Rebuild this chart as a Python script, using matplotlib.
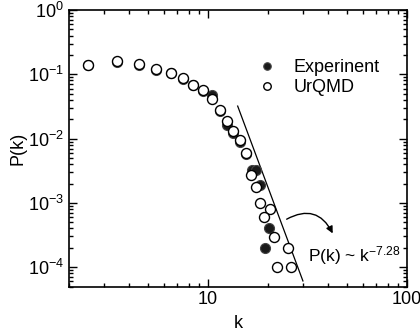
import matplotlib
matplotlib.use("Agg")
import matplotlib.pyplot as plt
from matplotlib.ticker import LogLocator, NullFormatter, FuncFormatter

plt.rcParams['font.family'] = ['Liberation Sans', 'DejaVu Sans']
plt.rcParams['mathtext.fontset'] = 'custom'
plt.rcParams['mathtext.rm'] = 'Liberation Sans'
plt.rcParams['mathtext.it'] = 'Liberation Sans'

# UrQMD (open circles)
k_urqmd = [2.5, 3.5, 4.5, 5.5, 6.5, 7.5, 8.45, 9.45, 10.5, 11.5, 12.5, 13.4, 14.45,
           15.5, 16.4, 17.5, 18.3, 20.4, 19.2, 21.4, 25.2, 22.2, 26.2]
p_urqmd = [0.14, 0.158, 0.143, 0.12, 0.106, 0.087, 0.069, 0.056, 0.041, 0.028, 0.019,
           0.013, 0.0094, 0.006, 0.0027, 0.00176, 0.001, 0.00079, 0.00061, 0.00029,
           0.0002, 0.0001, 0.0001]

# Experiment (filled circles)
k_exp = [2.5, 3.5, 4.5, 5.5, 6.5, 7.5, 8.45, 9.45, 10.5, 11.5, 12.5, 13.4, 14.45,
         15.5, 16.7, 17.5, 18.3, 20.2, 19.4]
p_exp = [0.137, 0.155, 0.14, 0.117, 0.103, 0.085, 0.067, 0.054, 0.047, 0.027, 0.0165,
         0.012, 0.009, 0.0058, 0.0033, 0.0032, 0.0019, 0.0004, 0.0002]

# power-law guide line
k_fit = [14.1, 30.0]
p_fit = [0.032, 6.1e-5]

fig = plt.figure(figsize=(4.2, 3.32), dpi=100)
ax = fig.add_axes([0.164, 0.137, 0.805, 0.833])

ax.plot(k_fit, p_fit, color='black', lw=0.9)
ax.plot(k_exp, p_exp, 'o', ms=7.2, mfc='#1a1a1a', mec='#444444', mew=0.8,
        label='Experinent', ls='none')
ax.plot(k_urqmd, p_urqmd, 'o', ms=7.2, mfc='white', mec='black', mew=1.0,
        label='UrQMD', ls='none')

ax.set_xscale('log')
ax.set_yscale('log')
ax.set_xlim(2, 100)
ax.set_ylim(5e-5, 1)

ax.xaxis.set_major_locator(LogLocator(base=10))
ax.xaxis.set_minor_locator(LogLocator(base=10, subs=range(2, 10)))
ax.xaxis.set_minor_formatter(NullFormatter())
ax.yaxis.set_minor_locator(LogLocator(base=10, subs=range(2, 10)))
ax.yaxis.set_minor_formatter(NullFormatter())
ax.xaxis.set_major_formatter(FuncFormatter(lambda v, p: '%d' % round(v)))

ax.tick_params(which='both', direction='in', top=True, right=True, labelsize=13, width=1)
ax.tick_params(which='major', length=6)
ax.tick_params(which='minor', length=3)
for s in ax.spines.values():
    s.set_linewidth(1.2)

ax.set_xlabel('k', fontsize=13, labelpad=5)
ax.set_ylabel('P(k)', fontsize=13, labelpad=1)

ax.legend(loc='upper left', bbox_to_anchor=(0.505, 0.88), frameon=False, fontsize=13,
          markerscale=0.75, handletextpad=0.9, labelspacing=0.15, handlelength=1.2)

ax.annotate('', xy=(0.784, 0.183), xytext=(0.637, 0.2385), xycoords='axes fraction',
            arrowprops=dict(arrowstyle='-|>', color='black', lw=1,
                            connectionstyle='arc3,rad=-0.55', mutation_scale=10))
ax.text(0.707, 0.111, r'P(k) ~ k$^{-7.28}$', transform=ax.transAxes, fontsize=12.5,
        ha='left', va='center')

plt.savefig('out.png')
